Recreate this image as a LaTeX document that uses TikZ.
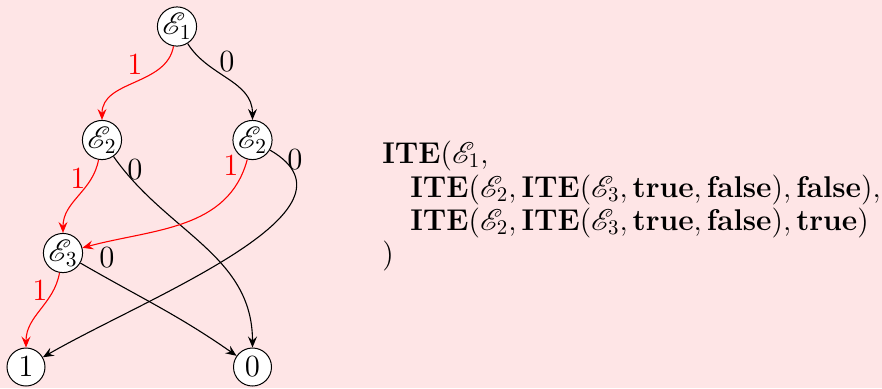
\documentclass[tikz,border=0pt]{standalone}
\usepackage{graphicx}
\usepackage{mathrsfs}
\usetikzlibrary{arrows.meta}
\definecolor{bgpink}{RGB}{254,229,230}
\newcommand{\ndtxt}[1]{\scalebox{1.07}{#1}}
\begin{document}
\begin{tikzpicture}[x=0.5pt,y=-0.5pt,
  bdd/.style={circle,draw,fill=white,line width=0.5pt,inner sep=0pt,minimum size=19pt,font=\fontsize{14.4}{18}\selectfont},
  lbl/.style={font=\fontsize{14.4}{18}\selectfont,inner sep=0pt},
  edge1/.style={red,line width=0.55pt,-{Stealth[length=5.5pt,width=4.5pt,inset=2pt]}},
  edge0/.style={black,line width=0.55pt,-{Stealth[length=5.5pt,width=4.5pt,inset=2pt]}},
  txt/.style={anchor=base west,inner sep=0pt,scale=1.042,font=\fontsize{14.4}{18}\selectfont}]
\fill[bgpink] (0,0) rectangle (882,388);
\useasboundingbox (0,0) rectangle (882,388);

\node[bdd] (e1) at (177,26.5) {\ndtxt{$\mathscr{E}_1$}};
\node[bdd] (e2l) at (102,140) {\ndtxt{$\mathscr{E}_2$}};
\node[bdd] (e2r) at (252.5,140) {\ndtxt{$\mathscr{E}_2$}};
\node[bdd] (e3) at (63,253) {\ndtxt{$\mathscr{E}_3$}};
\node[bdd] (one) at (26,367) {\ndtxt{$1$}};
\node[bdd] (zero) at (252.5,367) {\ndtxt{$0$}};

\draw[edge1] (e1) to[out=-100,in=90] (e2l);
\draw[edge0] (e1) to[out=-58,in=90] (e2r);
\draw[edge1] (e2l) to[out=-100,in=90] (e3);
\draw[edge0] (e2l) to[out=-55,in=90] (zero);
\draw[edge1] (e2r) to[out=-105,in=15] (e3);
\draw[edge0] (e2r) to[out=-30,in=30] (one);
\draw[edge1] (e3) to[out=-100,in=90] (one);
\draw[edge0] (e3) to[out=-30,in=145] (zero);

\node[lbl,red] (l1) at (135,64) {\ndtxt{1}};
\node[lbl] (l2) at (227,62) {\ndtxt{0}};
\node[lbl,red] (l3) at (78,178) {\ndtxt{1}};
\node[lbl] (l4) at (135,170) {\ndtxt{0}};
\node[lbl,red] (l5) at (231,165) {\ndtxt{1}};
\node[lbl] (l6) at (295,160) {\ndtxt{0}};
\node[lbl] (l7) at (107,258) {\ndtxt{0}};
\node[lbl,red] (l8) at (40,290) {\ndtxt{1}};

\node[txt] (t1) at (382,163) {$\mathbf{ITE}(\mathscr{E}_1,$};
\node[txt] (t2) at (410,197) {$\mathbf{ITE}(\mathscr{E}_2,\mathbf{ITE}(\mathscr{E}_3,\mathbf{true},\mathbf{false}),\mathbf{false}),$};
\node[txt] (t3) at (410,230) {$\mathbf{ITE}(\mathscr{E}_2,\mathbf{ITE}(\mathscr{E}_3,\mathbf{true},\mathbf{false}),\mathbf{true})$};
\node[txt] (t4) at (382,263) {$)$};
\end{tikzpicture}
\end{document}
